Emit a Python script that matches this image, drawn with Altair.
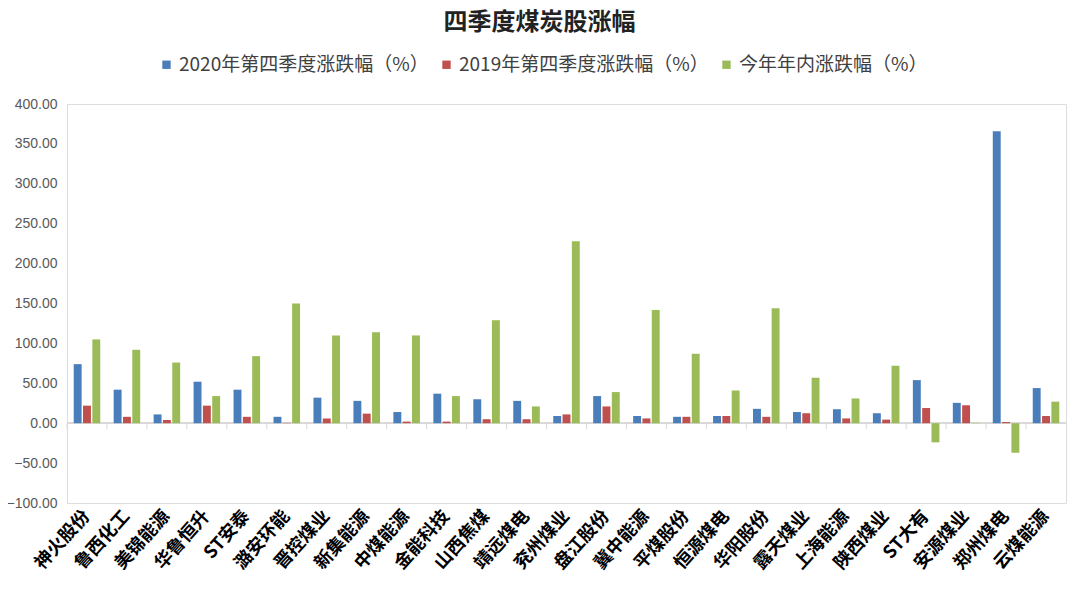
import altair as alt
import pandas as pd

stocks = ["神火股份", "鲁西化工", "美锦能源", "华鲁恒升", "ST安泰", "潞安环能", "晋控煤业",
          "新集能源", "中煤能源", "金能科技", "山西焦煤", "靖远煤电", "兖州煤业", "盘江股份",
          "冀中能源", "平煤股份", "恒源煤电", "华阳股份", "露天煤业", "上海能源", "陕西煤业",
          "ST大有", "安源煤业", "郑州煤电", "云煤能源"]
q4_2020 = [74, 42, 11, 52, 42, 8, 32, 28, 14, 37, 30, 28, 9, 34, 9, 8, 9, 18, 14, 17.5,
           12.5, 54, 25.5, 366, 44]
q4_2019 = [22, 8, 4, 22, 8, 0.5, 6, 12, 2, 2, 5, 5, 11, 21, 6, 8, 9, 8, 12.5, 6, 4.5, 19,
           22.5, 1.5, 9]
ytd = [105, 92, 76, 34, 84, 150, 110, 114, 110, 34, 129, 21, 228, 39, 142, 87, 41, 144, 57,
       31, 72, -24, 0.5, -37, 27]
series = ["2020年第四季度涨跌幅（%）", "2019年第四季度涨跌幅（%）", "今年年内涨跌幅（%）"]
colors = ["#4A7EBB", "#C0504D", "#9BBB59"]
y_ticks = [-100, -50, 0, 50, 100, 150, 200, 250, 300, 350, 400]

rows = []
for i, s in enumerate(stocks):
    for name, vals in zip(series, [q4_2020, q4_2019, ytd]):
        rows.append({"stock": s, "series": name, "value": vals[i]})
df = pd.DataFrame(rows)
cat_df = pd.DataFrame({"stock": stocks})

FONT = "Noto Sans CJK SC"
x_scale = alt.Scale(domain=stocks, paddingInner=0, paddingOuter=0)
y_scale = alt.Scale(domain=[-100, 400], nice=False, zero=False)

bars = alt.Chart(df).mark_bar().encode(
    x=alt.X("stock:N", scale=x_scale, sort=stocks, title=None,
            axis=alt.Axis(orient="bottom", labelAngle=-48, labelAlign="right",
                          labelBaseline="middle", labelFont=FONT, labelFontWeight="bold",
                          labelFontSize=18, labelColor="#000000", labelPadding=10,
                          domain=False, ticks=False, labelLimit=200)),
    xOffset=alt.XOffset("series:N", sort=series,
                        scale=alt.Scale(paddingInner=0.15, paddingOuter=0.72)),
    y=alt.Y("value:Q", scale=y_scale, title=None,
            axis=alt.Axis(orient="left", values=y_ticks, format=".2f", grid=False,
                          domain=False, ticks=False, labelFont="Liberation Sans",
                          labelFontSize=14, labelColor="#595959", labelPadding=10)),
    color=alt.Color("series:N", sort=series, title=None,
                    scale=alt.Scale(domain=series, range=colors),
                    legend=alt.Legend(orient="none", direction="horizontal", legendX=90,
                                      legendY=-49, symbolType="square", symbolSize=70,
                                      symbolStrokeWidth=0, labelFont=FONT, labelFontSize=19,
                                      labelColor="#404040", columnPadding=8, labelLimit=400,
                                      labelOffset=3)),
)

zero_line = alt.Chart(cat_df).mark_rule(color="#D9D9D9", strokeWidth=1.5).encode(
    y=alt.YDatum(0, scale=y_scale, axis=None),
)

tick_marks = alt.Chart(cat_df).mark_rule(color="#D9D9D9", strokeWidth=1, y2Offset=6).encode(
    x=alt.X("stock:N", scale=x_scale, sort=stocks, bandPosition=0, axis=None),
    y=alt.YDatum(0, axis=None),
    y2=alt.datum(0),
)

chart = alt.layer(zero_line, tick_marks, bars).resolve_axis(
    x="independent", y="independent"
).properties(
    width=999, height=399,
    autosize=alt.AutoSizeParams(type="none"),
    padding={"left": 59, "top": 96, "right": 6, "bottom": 87},
    title=alt.Title("四季度煤炭股涨幅", font=FONT, fontSize=24, fontWeight="bold",
                    color="#222222", anchor="middle", frame="group", dx=-27, offset=20),
).configure_view(stroke="#7B9FD4", strokeWidth=1.5).configure(background="white")

chart.save("out.html", embed_options={"renderer": "svg", "actions": False})
